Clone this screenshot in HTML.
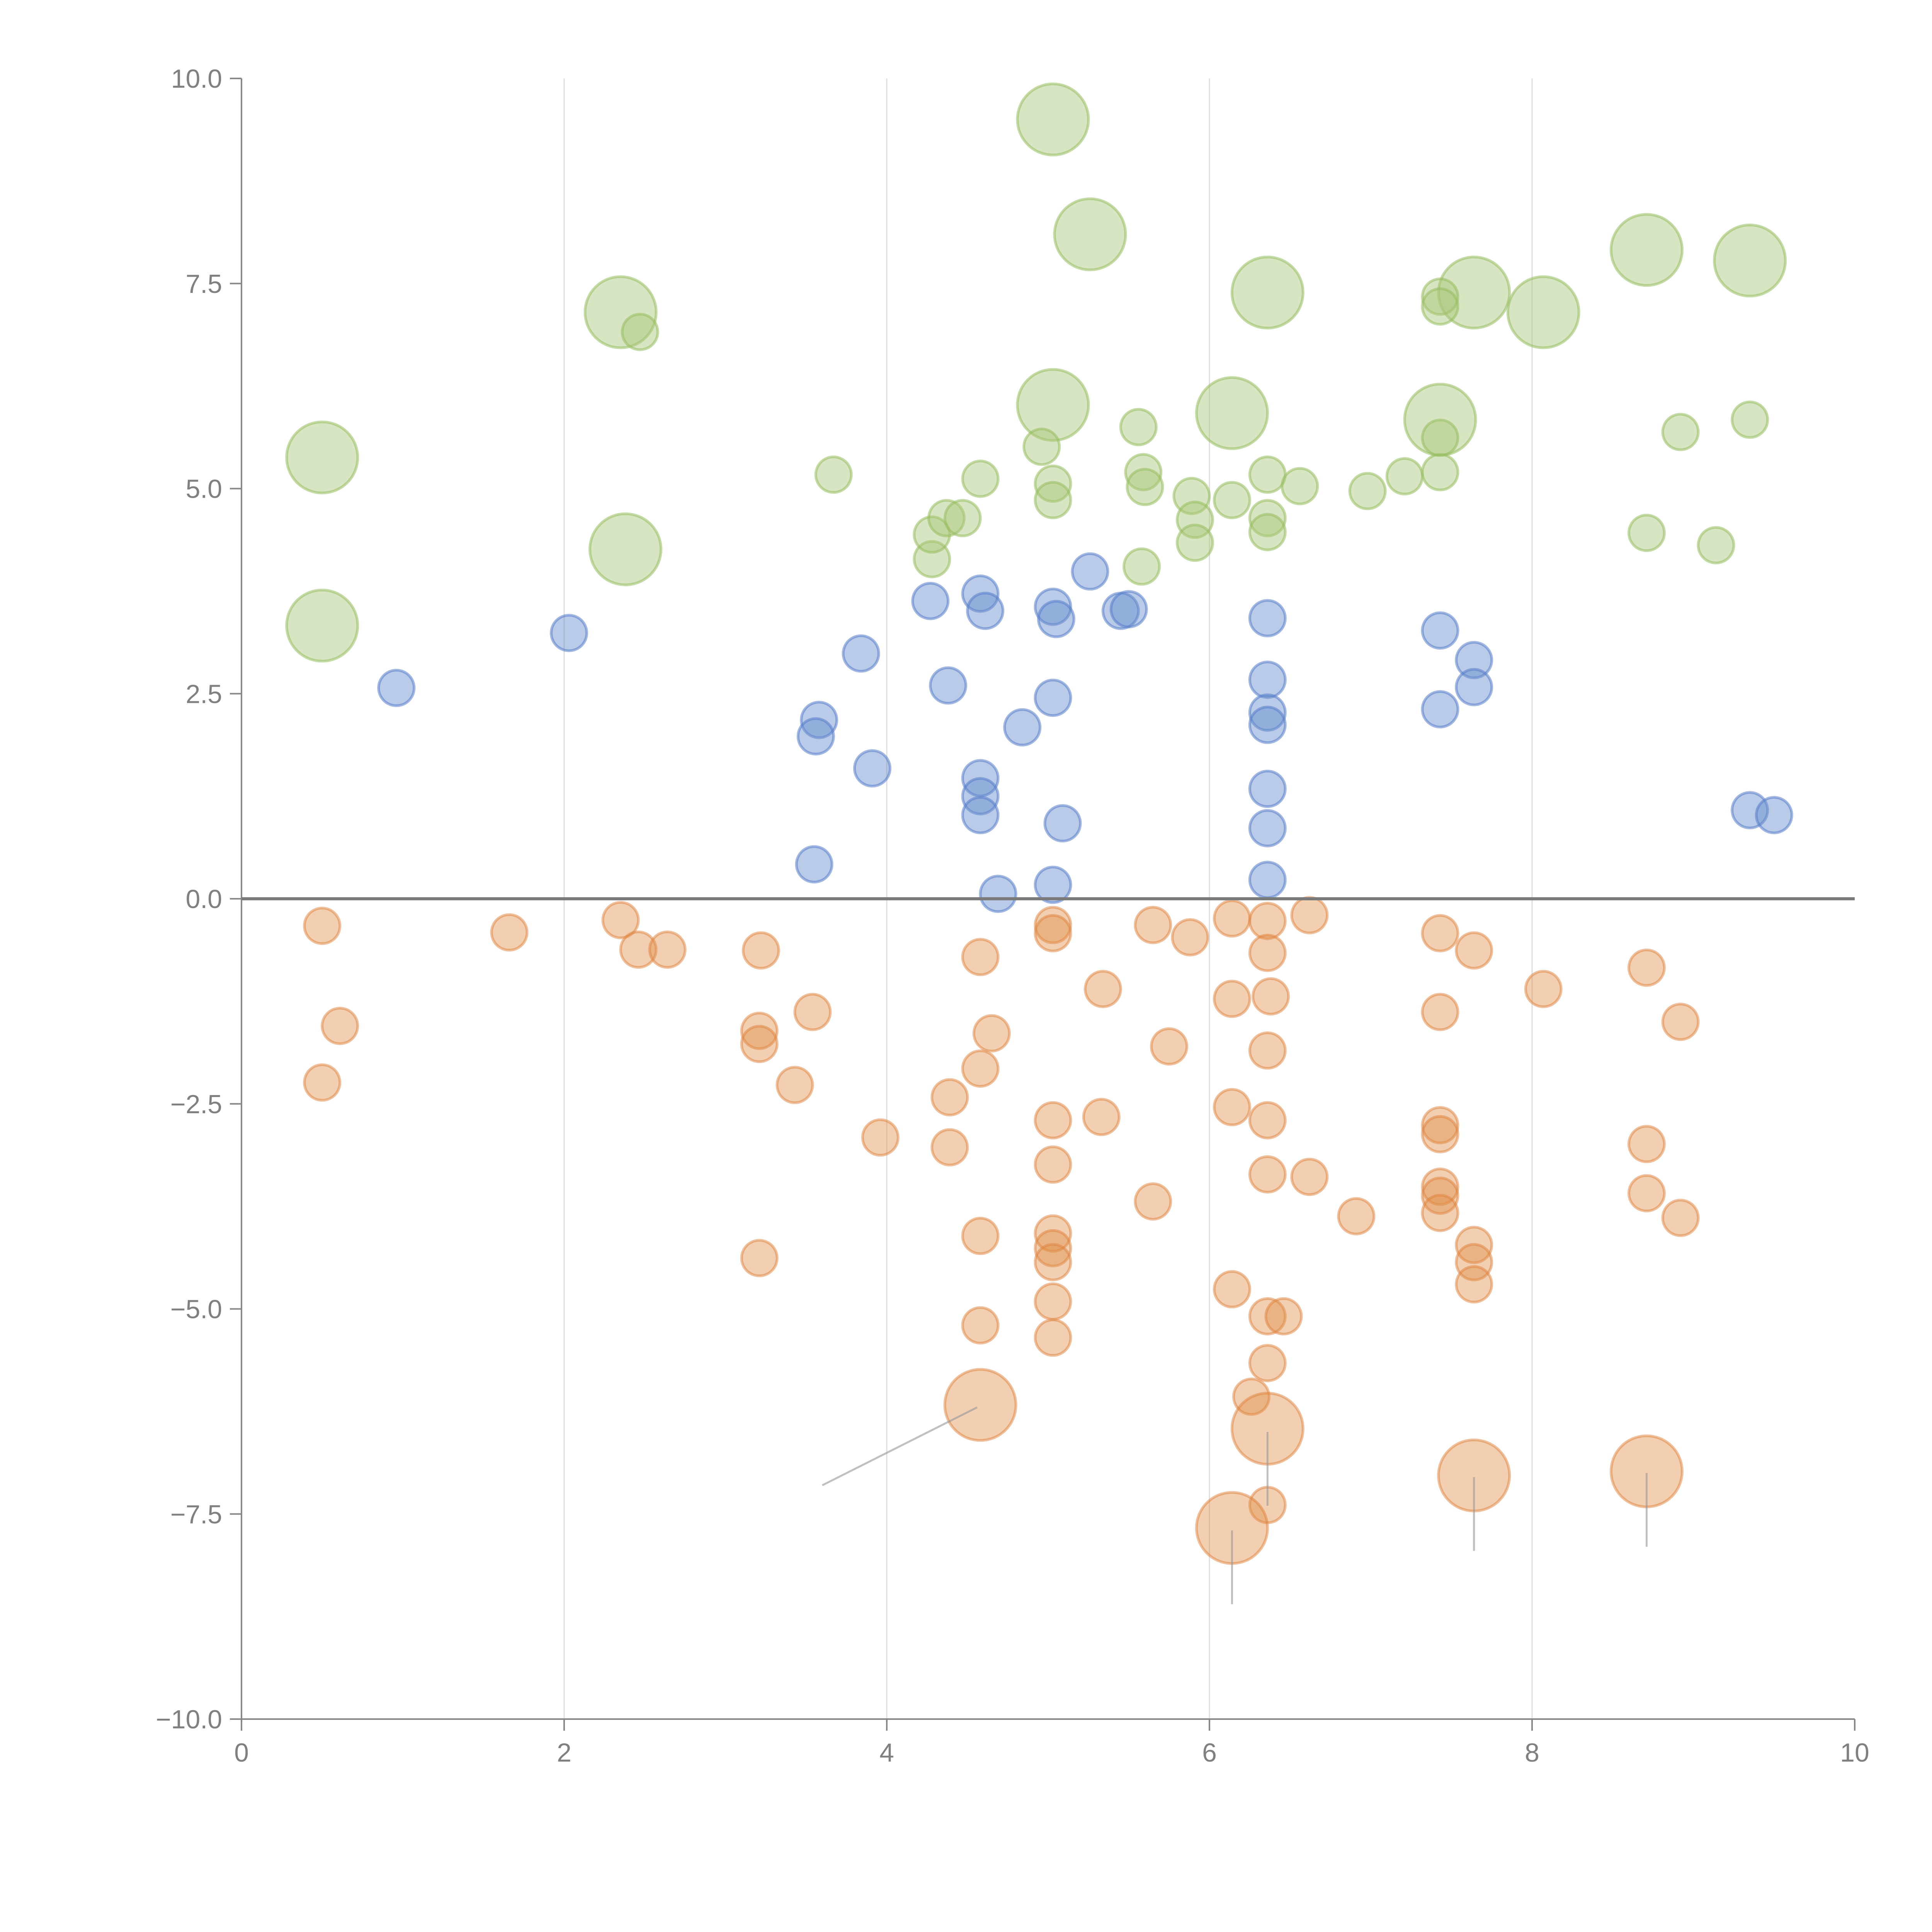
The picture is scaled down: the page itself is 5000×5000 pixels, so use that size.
<!DOCTYPE html>
<html><head><meta charset="utf-8"><style>html,body{margin:0;padding:0;background:#fff}svg{display:block}</style></head>
<body>
<svg id="chart" xmlns="http://www.w3.org/2000/svg" width="5000" height="5000" viewBox="0 0 5000 5000">
<g id="grid"></g>
<g id="axes"></g>
<g id="marks"></g>
</svg>
<script>
const xTicks = [0, 2, 4, 6, 8, 10];
const yTicks = [10, 7.5, 5, 2.5, 0, -2.5, -5, -7.5, -10];
const yTickLabels = ["10.0", "7.5", "5.0", "2.5", "0.0", "\u22122.5", "\u22125.0", "\u22127.5", "\u221210.0"];

const greenX = [0.5,0.5,2.35,2.38,5.03,5.26,5.03,6.14,6.36,7.43,7.64,8.07,8.71,9.35,
  2.47,3.67,4.28,4.28,4.37,4.47,4.58,4.96,5.03,5.03,5.56,5.59,5.6,5.58,5.89,5.91,5.91,6.14,6.36,6.36,6.36,6.56,6.98,7.21,7.43,7.43,7.43,7.43,8.71,8.92,9.14,9.35];
const greenY = [5.38,3.33,7.15,4.26,9.5,8.1,6.02,5.92,7.39,5.84,7.39,7.15,7.91,7.78,
  6.91,5.17,4.14,4.44,4.64,4.64,5.12,5.51,5.06,4.86,5.75,5.2,5.02,4.05,4.91,4.62,4.34,4.86,5.17,4.64,4.47,5.03,4.97,5.15,7.34,7.22,5.62,5.2,4.46,5.69,4.31,5.84];
const greenSize = [4,4,4,4,4,4,4,4,4,4,4,4,4,4,
  1,1,1,1,1,1,1,1,1,1,1,1,1,1,1,1,1,1,1,1,1,1,1,1,1,1,1,1,1,1,1,1];

const blueX = [0.96,2.03,3.84,3.58,3.56,3.91,3.55,4.27,4.38,4.58,4.61,4.58,4.58,4.58,4.69,4.84,5.03,5.05,5.03,5.09,5.03,5.26,5.45,5.5,6.36,6.36,6.36,6.36,6.36,6.36,6.36,7.43,7.43,7.64,7.64,9.35,9.5];
const blueY = [2.57,3.24,2.99,2.18,1.98,1.59,0.42,3.63,2.6,3.72,3.51,1.47,1.25,1.02,0.06,2.09,3.56,3.41,2.45,0.92,0.17,3.99,3.51,3.53,3.42,2.67,2.27,2.12,1.34,0.86,0.23,3.27,2.31,2.91,2.58,1.08,1.02];

const orangeX = [0.5,0.61,0.5,1.66,2.35,2.46,2.64,3.22,3.21,3.21,3.54,3.43,3.21,3.96,4.39,4.39,4.58,4.65,4.58,4.58,4.58,
  5.03,5.03,5.03,5.03,5.03,5.03,5.03,5.03,5.03,5.34,5.33,5.65,5.88,5.75,5.65,6.14,6.14,6.14,6.14,6.26,
  6.36,6.36,6.38,6.36,6.36,6.36,6.36,6.46,6.36,6.36,6.62,6.62,6.91,7.43,7.43,7.43,7.43,7.43,7.43,7.43,
  7.64,7.64,7.64,7.64,8.07,8.71,8.71,8.71,8.92,8.92,
  4.58,6.36,6.14,7.64,8.71];
const orangeY = [-0.33,-1.55,-2.24,-0.41,-0.26,-0.62,-0.62,-0.63,-1.61,-1.77,-1.38,-2.27,-4.38,-2.91,-2.42,-3.03,-0.71,-1.64,-2.07,-4.11,-5.2,
  -0.32,-0.42,-2.7,-3.24,-4.08,-4.26,-4.43,-4.91,-5.35,-1.1,-2.66,-0.32,-0.47,-1.8,-3.69,-0.24,-1.22,-2.54,-4.76,-6.07,
  -0.27,-0.66,-1.19,-1.85,-2.7,-3.36,-5.09,-5.09,-5.66,-7.39,-0.2,-3.39,-3.87,-0.42,-1.38,-2.76,-2.87,-3.51,-3.62,-3.83,
  -0.63,-4.22,-4.43,-4.7,-1.1,-0.84,-2.99,-3.59,-1.5,-3.89,
  -6.17,-6.46,-7.67,-7.03,-6.98];
const orangeSize = orangeX.map((_, i) => i >= orangeX.length - 5 ? 4 : 1);

const leaderX1 = [4.56,6.36,6.14,7.64,8.71];
const leaderY1 = [-6.2,-6.5,-7.7,-7.05,-7.0];
const leaderX2 = [3.6,6.36,6.14,7.64,8.71];
const leaderY2 = [-7.15,-7.4,-8.6,-7.95,-7.9];

const NS = "http://www.w3.org/2000/svg";
const X = v => 625 + 417.5 * v;
const Y = v => 2326 - 212.3 * v;
const R = s => 46 * Math.sqrt(s);
function mk(tag, attrs, parent) {
  const e = document.createElementNS(NS, tag);
  for (const k in attrs) e.setAttribute(k, attrs[k]);
  parent.appendChild(e);
  return e;
}
const grid = document.getElementById('grid');
const axes = document.getElementById('axes');
const marks = document.getElementById('marks');
const font = '"Liberation Sans", Arial, sans-serif';

xTicks.forEach(t => {
  if (t > 0 && t < 10) {
    const g = mk('line', {x1: X(t), x2: X(t), y1: Y(10), y2: Y(-10), stroke: '#dcdcdc', 'stroke-width': 3}, grid);
    
    
  }
  const tk = mk('line', {x1: X(t), x2: X(t), y1: Y(-10), y2: Y(-10) + 30, stroke: '#888', 'stroke-width': 4}, axes);
  
  
  const lb = mk('text', {x: X(t), y: Y(-10) + 110, 'text-anchor': 'middle', 'font-size': 68, fill: '#808080', 'font-family': font}, axes);
  lb.textContent = String(t);
  
  
});
yTicks.forEach((t, i) => {
  const tk = mk('line', {x1: X(0) - 30, x2: X(0), y1: Y(t), y2: Y(t), stroke: '#888', 'stroke-width': 4}, axes);
  
  
  const lb = mk('text', {x: X(0) - 50, y: Y(t) + 24, 'text-anchor': 'end', 'font-size': 68, fill: '#808080', 'font-family': font}, axes);
  lb.textContent = yTickLabels[i];
  
  
});
const ya = mk('line', {x1: X(0), x2: X(0), y1: Y(10), y2: Y(-10), stroke: '#888', 'stroke-width': 4}, axes);


const xa = mk('line', {x1: X(0), x2: X(10), y1: Y(-10), y2: Y(-10), stroke: '#888', 'stroke-width': 4}, axes);



function series(xs, ys, sizes, fill, stroke, name) {
  xs.forEach((x, i) => {
    const c = mk('circle', {cx: X(x), cy: Y(ys[i]), r: R(sizes ? sizes[i] : 1), fill: fill, stroke: stroke, 'stroke-width': 7}, marks);
    
    
  });
}
series(greenX, greenY, greenSize, 'rgba(168,198,120,0.45)', 'rgba(150,190,95,0.55)', 'green-bubble');
series(blueX, blueY, null, 'rgba(100,140,205,0.45)', 'rgba(85,125,200,0.55)', 'blue-bubble');
series(orangeX, orangeY, orangeSize, 'rgba(225,140,70,0.42)', 'rgba(222,130,60,0.5)', 'orange-bubble');

const zl = mk('line', {x1: X(0), x2: X(10), y1: Y(0), y2: Y(0), stroke: '#7a7a7a', 'stroke-width': 8}, axes);


marks.parentNode.appendChild(zl);

leaderX1.forEach((x, i) => {
  const l = mk('line', {x1: X(x), y1: Y(leaderY1[i]), x2: X(leaderX2[i]), y2: Y(leaderY2[i]), stroke: 'rgba(150,150,150,0.6)', 'stroke-width': 5}, marks);
  
  
});
</script>
</body></html>
